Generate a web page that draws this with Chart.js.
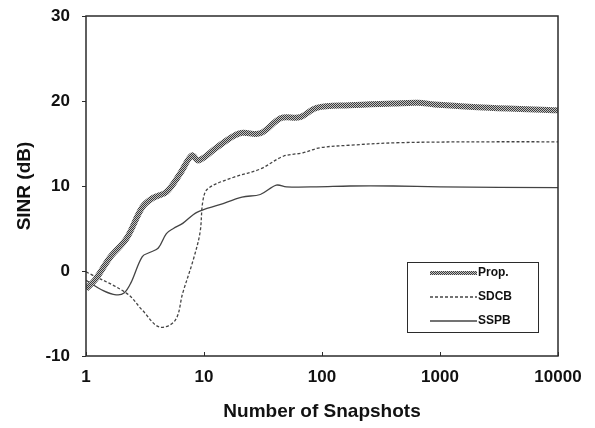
<!DOCTYPE html>
<html>
<head>
<meta charset="utf-8">
<script src="https://cdn.jsdelivr.net/npm/chart.js@4/dist/chart.umd.min.js"></script>
<style>
  html, body { margin: 0; padding: 0; background: #fff; }
  #wrap { width: 595px; height: 428px; }
</style>
</head>
<body>
<div id="wrap"><canvas id="sinr" width="595" height="428"></canvas></div>
<script>
// values
const xTicks = [1, 10, 100, 1000, 10000];
const yTicks = [-10, 0, 10, 20, 30];

const propN    = [1, 1.2, 1.6, 2.2, 3, 3.7, 4.8, 6.3, 7.9, 9, 13, 20, 30, 45, 65, 90, 170, 400, 650, 900, 2600, 10000];
const propSINR = [-2.1, -1, 1.6, 3.8, 7.5, 8.6, 9.3, 11.5, 13.6, 13, 14.6, 16.2, 16.2, 18, 18.1, 19.2, 19.5, 19.7, 19.8, 19.6, 19.2, 18.9];

const sdcbN    = [1, 2.2, 3, 4.2, 5.7, 6.6, 8.1, 9.25, 9.8, 10.8, 17.6, 30, 47, 69, 96, 173, 458, 2650, 10000];
const sdcbSINR = [-0.1, -2.6, -4.6, -6.6, -5.8, -2.6, 1.3, 4.5, 8.3, 9.7, 11, 12, 13.5, 13.9, 14.5, 14.8, 15.1, 15.2, 15.2];

const sspbN    = [1, 1.4, 1.8, 2.1, 2.4, 3, 3.5, 4.1, 4.8, 5.5, 6.6, 8.7, 13.6, 21, 30, 41, 50, 90, 173, 400, 1000, 10000];
const sspbSINR = [-1.1, -2.3, -2.8, -2.6, -1.4, 1.7, 2.2, 2.7, 4.4, 5.0, 5.6, 6.9, 7.8, 8.7, 9.0, 10.1, 9.9, 9.9, 10.0, 10.0, 9.9, 9.8];

const pts = (xs, ys) => xs.map((x, i) => ({x: x, y: ys[i]}));

// checker pattern for the thick "Prop." line
function checker() {
  const c = document.createElement("canvas");
  c.width = 2; c.height = 2;
  const g = c.getContext("2d");
  g.fillStyle = "#c4c4c4"; g.fillRect(0, 0, 2, 2);
  g.fillStyle = "#3c3c3c"; g.fillRect(0, 0, 1, 1); g.fillRect(1, 1, 1, 1);
  return g.createPattern(c, "repeat");
}
const hatch = checker();
const ink = "#2b2b2b";
const fontFam = "'Liberation Sans', Arial, sans-serif";

// box round the plot, inward ticks on x, legend inside the plot
const frame = {
  id: "frame",
  afterDraw(chart) {
    const {ctx, chartArea: a, scales} = chart;
    ctx.save();
    ctx.strokeStyle = ink;
    ctx.lineWidth = 1.5;
    ctx.strokeRect(a.left, a.top, a.right - a.left, a.bottom - a.top);
    ctx.lineWidth = 1;
    xTicks.forEach(v => {
      const px = Math.round(scales.x.getPixelForValue(v)) + 0.5;
      ctx.beginPath(); ctx.moveTo(px, a.bottom); ctx.lineTo(px, a.bottom - 4); ctx.stroke();
    });

    // legend
    const bx = a.right - 151, by = a.top + 246, bw = 131, bh = 70;
    ctx.fillStyle = "#fff";
    ctx.fillRect(bx, by, bw, bh);
    ctx.lineWidth = 1;
    ctx.strokeStyle = ink;
    ctx.strokeRect(bx + 0.5, by + 0.5, bw, bh);
    ctx.font = "bold 12px " + fontFam;
    ctx.textBaseline = "middle";
    chart.data.datasets.forEach((ds, i) => {
      const y = by + 11 + i * 24;
      ctx.beginPath();
      ctx.strokeStyle = ds.borderColor;
      ctx.lineWidth = i === 0 ? 4 : ds.borderWidth;
      ctx.setLineDash(ds.borderDash || []);
      ctx.moveTo(bx + 23, y); ctx.lineTo(bx + 70, y);
      ctx.stroke();
      ctx.setLineDash([]);
      ctx.fillStyle = "#111";
      ctx.fillText(ds.label, bx + 71, y);
    });
    ctx.restore();
  }
};

new Chart(document.getElementById("sinr"), {
  type: "line",
  data: {
    datasets: [
      {label: "Prop.", data: pts(propN, propSINR), borderColor: hatch, borderWidth: 6, tension: 0.35},
      {label: "SDCB", data: pts(sdcbN, sdcbSINR), borderColor: "#444", borderWidth: 1.3, borderDash: [3, 2], tension: 0.35},
      {label: "SSPB", data: pts(sspbN, sspbSINR), borderColor: "#444", borderWidth: 1.3, tension: 0.35}
    ]
  },
  options: {
    responsive: false,
    animation: false,
    events: [],
    elements: {point: {radius: 0}},
    layout: {padding: {top: 16, right: 37, left: 0, bottom: 0}},
    plugins: {legend: {display: false}, tooltip: {enabled: false}},
    scales: {
      x: {
        type: "logarithmic",
        min: 1, max: 10000,
        afterFit: s => { s.height = 72; },
        afterBuildTicks: s => { s.ticks = xTicks.map(v => ({value: v})); },
        grid: {display: false, drawTicks: false},
        border: {display: false},
        ticks: {color: "#111", padding: 11, font: {family: fontFam, size: 17, weight: "bold"}, callback: v => String(v), maxRotation: 0, autoSkip: false},
        title: {display: true, text: "Number of Snapshots", color: "#111", padding: {top: 0, bottom: 5}, font: {family: fontFam, size: 19, weight: "bold"}}
      },
      y: {
        min: -10, max: 30,
        afterFit: s => { s.width = 86; s.paddingTop = 0; s.paddingBottom = 0; },
        afterBuildTicks: s => { s.ticks = yTicks.map(v => ({value: v})); },
        grid: {drawOnChartArea: false, tickLength: 4, color: ink, lineWidth: 1},
        border: {display: false},
        ticks: {color: "#111", padding: 12, font: {family: fontFam, size: 17, weight: "bold"}},
        title: {display: true, text: "SINR (dB)", color: "#111", padding: {top: 13, bottom: 0}, font: {family: fontFam, size: 19, weight: "bold"}}
      }
    }
  },
  plugins: [frame]
});
</script>
</body>
</html>
